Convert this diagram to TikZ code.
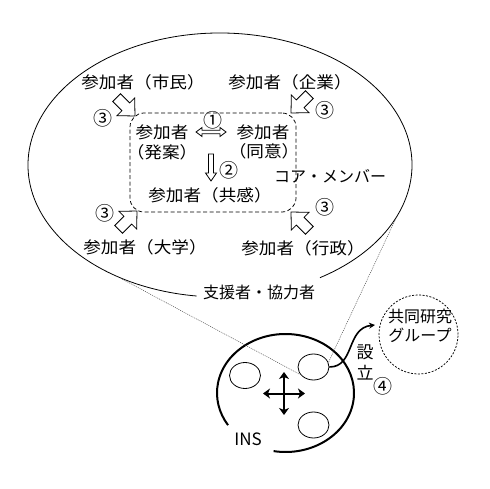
\documentclass[tikz,border=0pt]{standalone}
\usepackage{fontspec}
\setmainfont{Noto Sans CJK JP}
\newfontfamily\pfont{Noto Sans CJK JP}[FakeStretch=1.08]
\usetikzlibrary{shapes.geometric,arrows.meta}
\begin{document}
\begin{tikzpicture}[x=1pt,y=-1pt,
  txt/.style={inner sep=0pt, font=\fontsize{16}{18.5}\selectfont},
  ptxt/.style={inner sep=0pt, font=\pfont\fontsize{16.3}{18.5}\selectfont},
  num/.style={inner sep=0pt, font=\fontsize{19}{21}\selectfont},
  bigtxt/.style={inner sep=0pt, font=\fontsize{17}{19}\selectfont},
  dotline/.style={line width=0.45pt, dash pattern=on 1pt off 1pt, black!75},
  smallell/.style={draw, ellipse, minimum width=31pt, minimum height=26pt, inner sep=0pt, line width=0.8pt},
  outl/.style={line width=0.8pt, fill=white},
  blockarr/.pic={\draw[outl] (-26,-5.5) -- (-13,-5.5) -- (-13,-12.5) -- (0,0) -- (-13,12.5) -- (-13,5.5) -- (-26,5.5) -- cycle;}
]
\useasboundingbox (0,0) rectangle (490,489);

% big speech ellipse
\coordinate (bigc) at (220,165);
\draw[line width=0.8pt] ([shift={(-58.6:192pt and 132pt)}]bigc) arc[start angle=-58.6, end angle=263, x radius=192pt, y radius=132pt];

% core members box
\node[draw, dash pattern=on 4pt off 2.5pt, rounded corners=14pt, minimum width=166pt, minimum height=99pt, line width=0.75pt] (core) at (213,162.5) {};

% participants
\node[ptxt] (pShimin) at (143,82) {参加者（市民）};
\node[ptxt] (pKigyo) at (290,82) {参加者（企業）};
\node[ptxt] (pDaigaku) at (145,247) {参加者（大学）};
\node[ptxt] (pGyosei) at (303,248) {参加者（行政）};
\node[ptxt] (pHatsu1) at (162,132) {参加者};
\node[ptxt] (pHatsu2) at (162,152) {（発案）};
\node[ptxt] (pDoi1) at (263,132) {参加者};
\node[ptxt] (pDoi2) at (264,151.5) {（同意）};
\node[ptxt] (pKyokan) at (210,195) {参加者（共感）};
\node[txt] (corelbl) at (330,176) {コア・メンバー};
\node[txt] (support) at (259,292) {支援者・協力者};

% numbers
\node[num] (n3a) at (103,118) {③};
\node[num] (n3b) at (325,110) {③};
\node[num] (n3c) at (105,213) {③};
\node[num] (n3d) at (325,207) {③};
\node[num] (n1) at (213,120) {①};
\node[num] (n2) at (229,170) {②};
\node[num] (n4) at (383,386) {④};

% block arrows
\pic[rotate=-45] at (135,116) {blockarr};
\pic[rotate=-135] at (291,113) {blockarr};
\pic[rotate=45] at (137,211) {blockarr};
\pic[rotate=135] at (291,212) {blockarr};

% outline double arrow and down arrow
\coordinate (dbl) at (211,132);
\draw[outl] (dbl) ++(-15,0) -- ++(6,-4.5) -- ++(0,2.7) -- ++(18,0) -- ++(0,-2.7) -- ++(6,4.5) -- ++(-6,4.5) -- ++(0,-2.7) -- ++(-18,0) -- ++(0,2.7) -- cycle;
\coordinate (dn) at (211,154);
\draw[outl] (dn) ++(-2.5,0) -- ++(5,0) -- ++(0,19) -- ++(3,0) -- ++(-5.5,8) -- ++(-5.5,-8) -- ++(3,0) -- cycle;

% INS
\coordinate (insc) at (285.5,393);
\draw[line width=2pt] ([shift={(-100:68.5pt and 59pt)}]insc) arc[start angle=-100, end angle=213, x radius=68.5pt, y radius=59pt];
\node[bigtxt] (ins) at (248,439) {INS};
\node[smallell] (e1) at (245,375.5) {};
\node[smallell] (e2) at (313.5,367) {};
\node[smallell] (e3) at (313.5,425) {};
\coordinate (mv) at (284,393.5);
\draw[line width=2pt, {Stealth[length=7pt,width=10pt,inset=2pt]}-{Stealth[length=7pt,width=10pt,inset=2pt]}] ([xshift=-21pt]mv) -- ([xshift=21pt]mv);
\draw[line width=2pt, {Stealth[length=7pt,width=10pt,inset=2pt]}-{Stealth[length=7pt,width=10pt,inset=2pt]}] ([yshift=21.5pt]mv) -- ([yshift=-21.5pt]mv);

% dotted leader lines
\coordinate (bl) at (122,279);
\coordinate (br) at (397,216);
\draw[dotline] (bl) -- (e2.211);
\draw[dotline] (br) -- (e2.17);

% research group
\node[draw, circle, dash pattern=on 2pt off 1.5pt, minimum size=79pt, inner sep=0pt, line width=0.75pt] (grp) at (418.5,334.5) {};
\node[txt, align=center] (grptxt) at (420,326) {共同研究\\グループ};
\coordinate (tipg) at (375,325);
\draw[line width=1.6pt, -{Stealth[length=6pt,width=6pt]}] (e2.east) .. controls (355,367) and (346,328) .. (tipg);
\node[bigtxt] (setsu) at (365,352) {設};
\node[bigtxt] (ritsu) at (365,373) {立};
\end{tikzpicture}
\end{document}
